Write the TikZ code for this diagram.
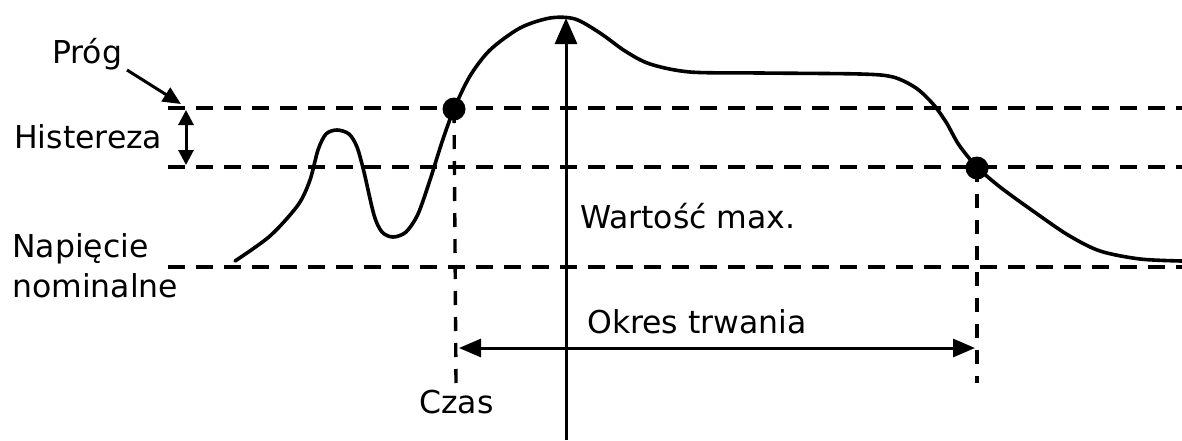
\documentclass[tikz,border=0pt]{standalone}
\usepackage{fontspec}
\setmainfont{DejaVu Sans}
\usetikzlibrary{arrows.meta}
\begin{document}
\begin{tikzpicture}[x=1pt,y=-1pt,
  lbl/.style={anchor=base west,inner sep=0pt,font=\fontsize{31.5}{36}\selectfont},
  dline/.style={line width=3.6pt,dash pattern=on 17pt off 11pt},
  vdline/.style={line width=3.4pt,dash pattern=on 14pt off 12pt},
  curve/.style={line width=3.6pt,line join=round,line cap=round},
  arr/.style={line width=3pt},
  dot/.style={circle,fill=black,inner sep=0pt,minimum size=23pt}]
\useasboundingbox (0,0) rectangle (1182,440);
% threshold lines
\coordinate (p1) at (168,108); \coordinate (p2) at (1182,108);
\coordinate (h1) at (168,167); \coordinate (h2) at (1182,167);
\coordinate (n1) at (168,267); \coordinate (n2) at (1182,267);
\draw[dline] (p1) -- (p2);
\draw[dline] (h1) -- (h2);
\draw[dline] (n1) -- (n2);
% curve
\draw[curve] plot[smooth,tension=0.5] coordinates {
 (235,261) (270,236) (298,205) (310,180) (318,150) (326,134) (337,130) (349,134) (357,147)
 (364,172) (374,215) (382,232) (393,237) (406,232) (418,214) (430,180) (442,142) (454,109)
 (470,76) (490,50) (520,28) (550,18) (575,19) (600,33) (625,51) (650,64) (690,72) (760,73)
 (860,74) (893,77) (916,88) (933,104) (946,122) (959,145) (977,167) (1000,187) (1033,211)
 (1068,235) (1100,251) (1140,259) (1182,261)};
% dots
\node[dot] (d1) at (454,109) {};
\node[dot] (d2) at (977,168) {};
\coordinate (e1) at (456,383);
\coordinate (e2) at (977,383);
\draw[vdline] (d1.center) -- (e1);
\draw[vdline] (d2.center) -- (e2);
% duration arrow
\coordinate (a1) at (459,348); \coordinate (a2) at (975,348);
\draw[arr,{Triangle[length=22pt,width=18pt]}-{Triangle[length=22pt,width=18pt]}] (a1) -- (a2);
% max arrow
\coordinate (m1) at (566,440); \coordinate (m2) at (566,18);
\draw[arr,-{Triangle[length=26pt,width=22pt]}] (m1) -- (m2);
% hysteresis arrow
\coordinate (y1) at (186,110); \coordinate (y2) at (186,165);
\draw[arr,{Triangle[length=15pt,width=15pt]}-{Triangle[length=15pt,width=15pt]}] (y1) -- (y2);
% prog arrow
\coordinate (g1) at (127,70); \coordinate (g2) at (181,104);
\draw[arr,-{Triangle[length=18pt,width=16pt]}] (g1) -- (g2);
% labels
\node[lbl] (tprog) at (52,63) {Próg};
\node[lbl] (this) at (14,148) {Histereza};
\node[lbl] (tnap) at (12,257) {Napięcie};
\node[lbl] (tnom) at (12,297) {nominalne};
\node[lbl] (tmax) at (580,228) {Wartość max.};
\node[lbl] (tokr) at (587,333) {Okres trwania};
\node[lbl] (tczas) at (419,413) {Czas};
\end{tikzpicture}
\end{document}
